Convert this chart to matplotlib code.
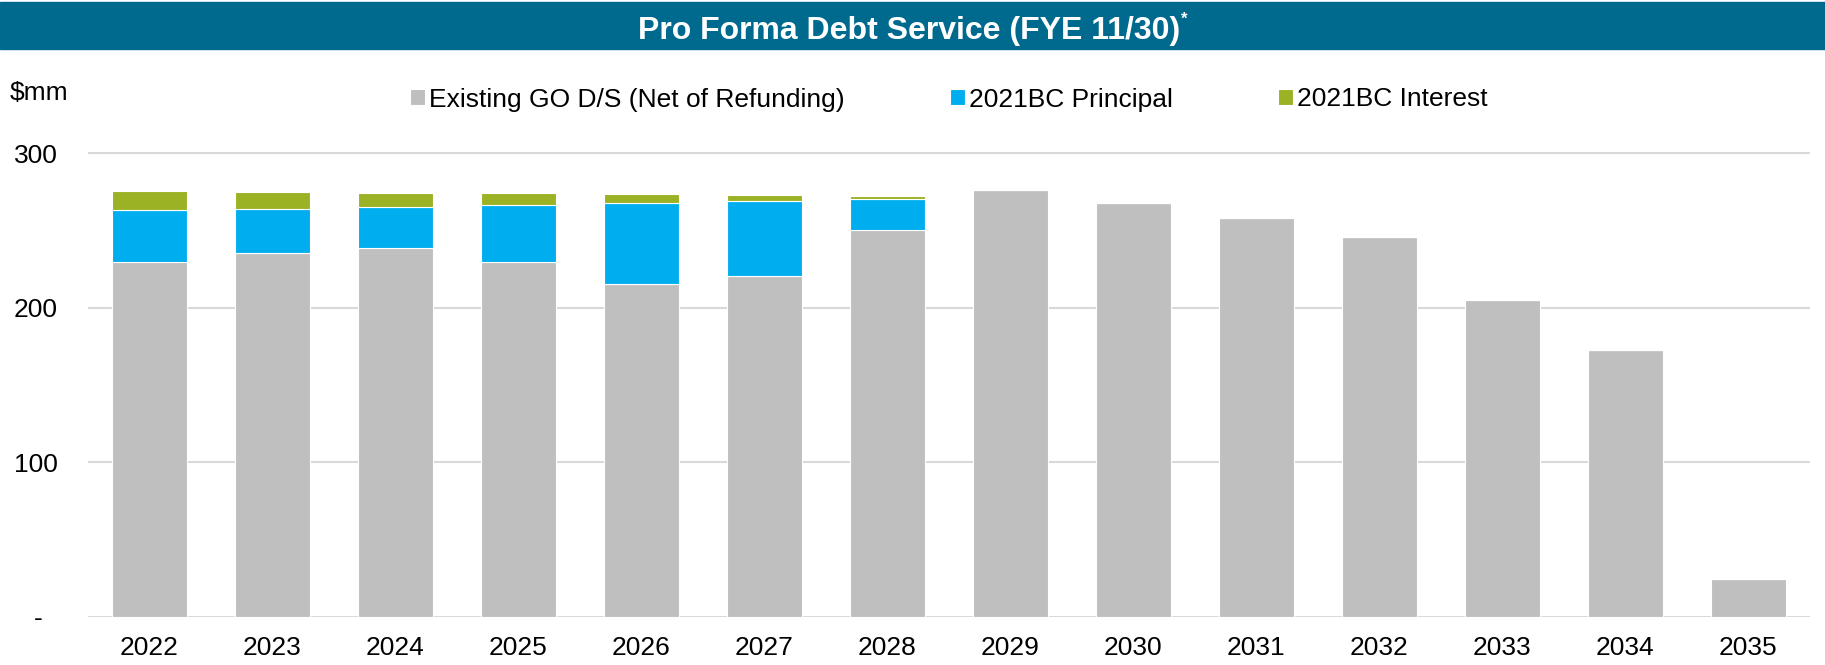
import numpy as np
import matplotlib
matplotlib.use("Agg")
import matplotlib.pyplot as plt
from matplotlib.patches import Rectangle

plt.rcParams['font.family'] = ['Liberation Sans', 'DejaVu Sans']

# dados ($mm)
anos = ['2022', '2023', '2024', '2025', '2026', '2027', '2028',
        '2029', '2030', '2031', '2032', '2033', '2034', '2035']
existente = [229.6, 235.4, 238.7, 229.6, 215.4, 220.4, 250.3,
             276.4, 268.0, 258.1, 246.0, 205.0, 172.9, 24.6]
principal = [33.7, 28.7, 26.3, 36.7, 52.2, 48.7, 20.3,
             0, 0, 0, 0, 0, 0, 0]
juros = [12.2, 10.8, 9.5, 7.7, 6.0, 3.9, 1.5,
         0, 0, 0, 0, 0, 0, 0]

rotulos = ['Existing GO D/S (Net of Refunding)', '2021BC Principal', '2021BC Interest']
cores = ['#BFBFBF', '#00AEEF', '#9BB224']
yticks = [0, 100, 200, 300]
ytick_labels = ['-  ', '100', '200', '300']

W, H = 1825, 665
fig = plt.figure(figsize=(W / 100, H / 100), dpi=100)

# faixa do titulo
fig.patches.append(Rectangle((0, 1 - 49 / H), 1, 47 / H, transform=fig.transFigure,
                             color='#006A8E', zorder=0))
fig.text(909 / W, 1 - 39 / H, 'Pro Forma Debt Service (FYE 11/30)', color='white',
         fontsize=23, fontweight='bold', ha='center', va='baseline')
fig.text(1181 / W, 1 - 12 / H, '*', color='white', fontsize=12, fontweight='bold',
         ha='left', va='top')

# eixo principal
ylim_top = 302
ax = fig.add_axes([88 / W, 48 / H, (1809.5 - 88) / W, ylim_top * 1.546 / H])
x = np.arange(len(anos))
base = np.array(existente)
b1 = ax.bar(x, existente, width=0.61, color=cores[0], edgecolor='white', linewidth=0.8)
b2 = ax.bar(x, principal, width=0.61, bottom=base, color=cores[1], edgecolor='white', linewidth=0.8)
b3 = ax.bar(x, juros, width=0.61, bottom=base + np.array(principal), color=cores[2],
            edgecolor='white', linewidth=0.8)

ax.set_xlim(-0.5, len(anos) - 0.5)
ax.set_ylim(0, ylim_top)
ax.set_xticks(x)
ax.set_xticklabels(anos, fontsize=19)
ax.set_yticks(yticks)
ax.set_yticklabels(ytick_labels, fontsize=19)
ax.tick_params(axis='both', length=0)
ax.tick_params(axis='y', pad=22)
ax.tick_params(axis='x', pad=14)
ax.grid(axis='y', color='#D9D9D9', linewidth=1.5)
ax.set_axisbelow(True)
for s in ax.spines.values():
    s.set_visible(False)

fig.text(10 / W, 1 - 93 / H, '$mm', fontsize=19, ha='left', va='center')

fig.legend([b1, b2, b3], rotulos, loc='center left', bbox_to_anchor=(410 / W, 1 - 99.5 / H),
           ncol=3, frameon=False, fontsize=19, borderpad=0, borderaxespad=0,
           handlelength=0.57, handleheight=0.57, handletextpad=0.15, columnspacing=3.98)

fig.savefig('out.png', dpi=100)
